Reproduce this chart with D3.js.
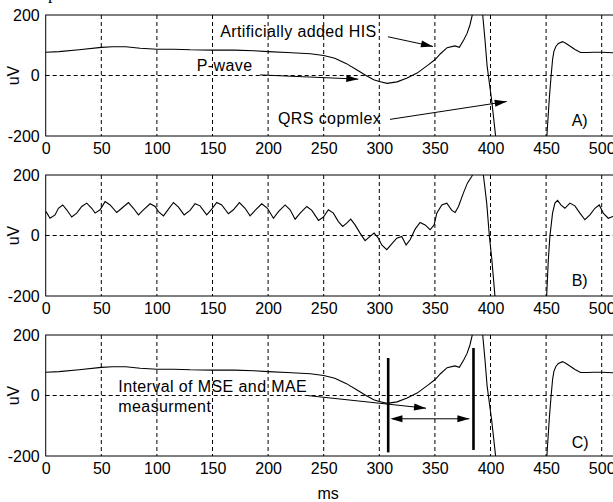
<!DOCTYPE html>
<html lang="en">
<head>
<meta charset="utf-8">
<script src="https://cdn.jsdelivr.net/npm/d3@7"></script>
<style>
body { margin: 0; background: #fff; }
svg { display: block; }
text { font-family: "Liberation Sans", Arial, sans-serif; fill: #000; }
</style>
</head>
<body>
<script>

// ---- data (ms, uV) ----
// clean ECG (panels A and C)
var tClean = [0, 12, 30, 50, 60, 72, 85, 100, 115, 130, 150, 170, 187, 200, 217, 238, 250, 260, 270, 280,
	288, 295, 300, 307, 316, 325, 334, 344, 350, 355, 361, 368, 372, 376, 379, 381.5, 383.6, 387, 390, 393,
	395, 397, 401, 404.6, 407, 410, 428, 446, 450.7, 452.8, 454.3, 455.8, 457, 458.8, 461, 464.8, 468, 472,
	476, 481, 487, 493, 500, 510, 520];
var vClean = [77, 79, 85, 93, 95, 95, 90, 87, 87, 85, 84, 84, 82, 79, 76, 72, 66, 57, 40, 18,
	0, -14, -20, -26, -21, -8, 8, 35, 52, 72, 92, 98, 93, 118, 140, 167, 200, 240, 235, 200,
	120, 30, -80, -200, -260, -330, -480, -330, -200, -80, -10, 52, 80, 96, 106, 112, 106, 96,
	86, 76, 76, 77, 77, 75, 75];

// noisy ECG (panel B)
var tNoisy = [0.3, 3.9, 8.4, 11.4, 15.3, 18.9, 23.4, 27.9, 32.4, 36.9, 41.4, 44.4, 48.9, 53.4, 57.9, 63.9,
	68.4, 74.4, 78.9, 83.4, 87.9, 93.9, 98.4, 101.4, 105.9, 110.4, 114.9, 119.4, 124.5, 129.8, 134.3, 138.8,
	144.8, 149.3, 153.8, 158.3, 164.3, 168.8, 174.2, 179.3, 183.8, 188.3, 194.3, 199.4, 204.8, 209.3, 215.3,
	219.8, 224.3, 228.8, 234.8, 239.3, 245.3, 249.8, 254.2, 258.7, 263.2, 267.1, 270.7, 274.3, 278.2, 282.7,
	287.2, 291.7, 295.3, 299.2, 302.2, 306.7, 311.2, 315.7, 320.2, 324.1, 327.7, 332.2, 336.7, 341.2, 345.7,
	349.3, 351.7, 356.2, 360.7, 365.2, 368.2, 371.2, 375.6, 379.2, 383.1, 386, 390, 393.6, 396.6, 399, 401.1,
	404, 407, 428, 448, 450.5, 452, 453.4, 455.8, 457.9, 460.3, 463.3, 466.9, 471.4, 475.9, 480.4, 484.9,
	489.4, 493.9, 497.8, 501.4, 505.9, 510.1, 515, 520];
var vNoisy = [79, 57, 68, 90, 101, 85, 61, 74, 96, 107, 90, 74, 85, 112, 101, 76,
	90, 109, 90, 68, 85, 105, 96, 79, 65, 87, 109, 94, 68, 83, 105, 98,
	68, 87, 109, 101, 72, 85, 109, 90, 65, 83, 105, 90, 57, 79, 101,
	85, 54, 74, 96, 83, 50, 61, 85, 74, 46, 30, 41, 54, 35, 8,
	-17, -3, 8, -9, -31, -47, -28, -9, -3, -31, -14, 21, 43, 35, 19,
	35, 74, 101, 107, 83, 76, 96, 140, 173, 195, 215, 215, 200, 107, -3, -75,
	-200, -260, -480, -330, -200, -80, -3, 74, 107, 116, 101, 90, 107, 98, 74, 52,
	68, 90, 101, 74, 57, 63, 70, 65];

var xTicks = [0, 50, 100, 150, 200, 250, 300, 350, 400, 450, 500];
var yTicks = [-200, 0, 200];
var panelNames = ["A)", "B)", "C)"];
var xLabel = "ms";
var yLabel = "uV";

// interval bars in C (ms, from uV, to uV)
var barT = [308, 384.7];
var barTop = [124, 157];
var barBottom = [-188, -180];

var width = 613, height = 502;
var fontSize = 16;

var svg = d3.select("body").append("svg")
	.attr("width", width)
	.attr("height", height);

var x = d3.scaleLinear().domain([0, 520]).range([45.7, 45.7 + 1.112 * 520]);

var panelTop = [15, 175, 335];
var panelH = 121;

var clean = tClean.map(function(t, i) { return [t, vClean[i]]; });
var noisy = tNoisy.map(function(t, i) { return [t, vNoisy[i]]; });
var series = [clean, noisy, clean];

// partial caption cut off at the top edge
svg.append("text")
	.attr("x", 48).attr("y", -1)
	.style("font-family", "'Liberation Serif', serif")
	.attr("font-size", 18)
	.text("p");

function arrowHead(g, x1, y1, x2, y2, len, half) {
	var a = Math.atan2(y2 - y1, x2 - x1);
	var bx = x2 - len * Math.cos(a), by = y2 - len * Math.sin(a);
	var nx = -Math.sin(a) * half, ny = Math.cos(a) * half;
	g.append("path")
		.attr("d", "M" + x2 + "," + y2 + "L" + (bx + nx) + "," + (by + ny) + "L" + (bx - nx) + "," + (by - ny) + "Z")
		.attr("fill", "#000");
}

function arrow(g, x1, y1, x2, y2) {
	g.append("line")
		.attr("x1", x1).attr("y1", y1).attr("x2", x2).attr("y2", y2)
		.attr("stroke", "#000").attr("stroke-width", 1);
	arrowHead(g, x1, y1, x2, y2, 12, 3.5);
}

var panels = [];

panelTop.forEach(function(top, p) {
	var y = d3.scaleLinear().domain([-200, 200]).range([top + panelH, top]);
	var g = svg.append("g");
	panels.push({ g: g, y: y });

	// grid
	g.selectAll(".vgrid")
		.data(xTicks.filter(function(d) { return d > 0; }))
		.enter().append("line")
		.attr("x1", function(d) { return x(d); })
		.attr("x2", function(d) { return x(d); })
		.attr("y1", top).attr("y2", top + panelH)
		.attr("stroke", "#000").attr("stroke-dasharray", "4,3");
	g.append("line")
		.attr("x1", x(0)).attr("x2", x(520))
		.attr("y1", y(0)).attr("y2", y(0))
		.attr("stroke", "#000").attr("stroke-dasharray", "4,3");

	// signal
	g.append("clipPath").attr("id", "clip" + p)
		.append("rect")
		.attr("x", x(0)).attr("y", top)
		.attr("width", x(520) - x(0)).attr("height", panelH);

	var line = d3.line()
		.x(function(d) { return x(d[0]); })
		.y(function(d) { return y(d[1]); });

	g.append("path")
		.datum(series[p])
		.attr("clip-path", "url(#clip" + p + ")")
		.attr("d", line)
		.attr("fill", "none")
		.attr("stroke", "#000")
		.attr("stroke-width", 1.1);

	// box
	g.append("rect")
		.attr("x", x(0)).attr("y", top)
		.attr("width", x(520) - x(0)).attr("height", panelH)
		.attr("fill", "none").attr("stroke", "#000");

	// axes (plain hyphen minus like the original)
	var ax = g.append("g")
		.attr("transform", "translate(0," + (top + panelH) + ")")
		.call(d3.axisBottom(x).tickValues(xTicks).tickFormat(String).tickSize(0).tickPadding(7));
	var ay = g.append("g")
		.attr("transform", "translate(" + x(0) + ",0)")
		.call(d3.axisLeft(y).tickValues(yTicks).tickFormat(String).tickSize(0).tickPadding(6));
	[ax, ay].forEach(function(a) {
		a.select(".domain").remove();
		a.attr("font-size", fontSize).attr("font-family", null);
		a.selectAll("text").attr("fill", "#000");
	});

	g.append("text")
		.attr("transform", "translate(19," + y(0) + ") rotate(-90)")
		.attr("text-anchor", "middle")
		.attr("font-size", fontSize)
		.text(yLabel);

	g.append("text")
		.attr("x", x(473)).attr("y", y(p == 2 ? -155 : -149))
		.attr("dy", "0.35em")
		.attr("font-size", fontSize)
		.text(panelNames[p]);
});

svg.append("text")
	.attr("x", x(254)).attr("y", 499)
	.attr("text-anchor", "middle")
	.attr("font-size", fontSize)
	.text(xLabel);

// ---- annotations, panel A ----
var A = panels[0];
function note(pn, t, v, s) {
	pn.g.append("text")
		.attr("x", x(t)).attr("y", pn.y(v))
		.attr("dy", "0.35em")
		.attr("font-size", fontSize)
		.attr("letter-spacing", 0.4)
		.text(s);
}
note(A, 156.9, 145, "Artificially added HIS");
arrow(A.g, x(307.8), A.y(128), x(348.3), A.y(96));
note(A, 135.8, 35, "P-wave");
arrow(A.g, x(192.7), A.y(2), x(281.1), A.y(-12));
note(A, 208.9, -141, "QRS copmlex");
arrow(A.g, x(309.6), A.y(-145), x(414.6), A.y(-86));

// ---- annotations, panel C ----
var C = panels[2];
note(C, 65.3, 30, "Interval of MSE and MAE");
note(C, 65.3, -37, "measurment");
arrow(C.g, x(235), C.y(0), x(342), C.y(-42));
arrow(C.g, x(312), C.y(-77), x(381), C.y(-77));
arrowHead(C.g, x(381), C.y(-77), x(310), C.y(-77), 12, 3.5);

barT.forEach(function(t, i) {
	C.g.append("line")
		.attr("x1", x(t)).attr("x2", x(t))
		.attr("y1", C.y(barTop[i])).attr("y2", C.y(barBottom[i]))
		.attr("stroke", "#000").attr("stroke-width", 2.6);
});

</script>
</body>
</html>
